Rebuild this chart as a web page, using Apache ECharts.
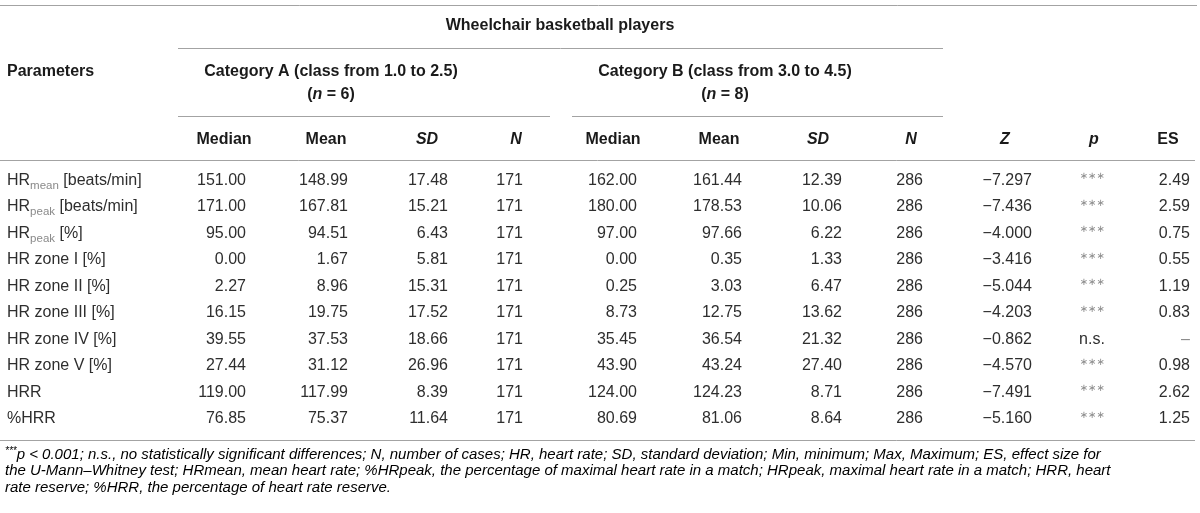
<!DOCTYPE html>
<html>
<head>
<meta charset="utf-8">
<script src="https://cdn.jsdelivr.net/npm/echarts@6/dist/echarts.min.js"></script>
<style>
  html, body { margin: 0; padding: 0; background: #fff; }
  #main { width: 1200px; height: 513px; }
</style>
</head>
<body>
<div id="main"></div>
<script>
// table values
var rowLabels = ['HR_mean [beats/min]', 'HR_peak [beats/min]', 'HR_peak [%]', 'HR zone I [%]', 'HR zone II [%]',
  'HR zone III [%]', 'HR zone IV [%]', 'HR zone V [%]', 'HRR', '%HRR'];
var medianA = [151.00, 171.00, 95.00, 0.00, 2.27, 16.15, 39.55, 27.44, 119.00, 76.85];
var meanA = [148.99, 167.81, 94.51, 1.67, 8.96, 19.75, 37.53, 31.12, 117.99, 75.37];
var sdA = [17.48, 15.21, 6.43, 5.81, 15.31, 17.52, 18.66, 26.96, 8.39, 11.64];
var nA = [171, 171, 171, 171, 171, 171, 171, 171, 171, 171];
var medianB = [162.00, 180.00, 97.00, 0.00, 0.25, 8.73, 35.45, 43.90, 124.00, 80.69];
var meanB = [161.44, 178.53, 97.66, 0.35, 3.03, 12.75, 36.54, 43.24, 124.23, 81.06];
var sdB = [12.39, 10.06, 6.22, 1.33, 6.47, 13.62, 21.32, 27.40, 8.71, 8.64];
var nB = [286, 286, 286, 286, 286, 286, 286, 286, 286, 286];
var zValues = [-7.297, -7.436, -4.000, -3.416, -5.044, -4.203, -0.862, -4.570, -7.491, -5.160];
var pLabels = ['***', '***', '***', '***', '***', '***', 'n.s.', '***', '***', '***'];
var esValues = [2.49, 2.59, 0.75, 0.55, 1.19, 0.83, null, 0.98, 2.62, 1.25];
var columnHeads = ['Median', 'Mean', 'SD', 'N', 'Median', 'Mean', 'SD', 'N', 'Z', 'p', 'ES'];
var italicHeads = [false, false, true, true, false, false, true, true, true, true, false];

var footLines = [
  '***|p < 0.001; n.s., no statistically significant differences; N, number of cases; HR, heart rate; SD, standard deviation; Min, minimum; Max, Maximum; ES, effect size for',
  'the U-Mann\u2013Whitney test; HRmean, mean heart rate; %HRpeak, the percentage of maximal heart rate in a match; HRpeak, maximal heart rate in a match; HRR, heart',
  'rate reserve; %HRR, the percentage of heart rate reserve.'
];

// layout (pixels)
var FONT = '"Liberation Sans", Arial, Helvetica, sans-serif';
var colAnchor = [246, 348, 448, 523, 637, 742, 842, 923, 1032, 1092, 1190];
var headCenter = [224, 326, 427, 516, 613, 719, 818, 911, 1005, 1094, 1168];

var columns = [medianA, meanA, sdA, nA, medianB, meanB, sdB, nB, zValues, pLabels, esValues];

function cellText(c, r) {
  var v = columns[c][r];
  if (c === 3 || c === 7) return String(v);
  if (c === 8) return (v < 0 ? '\u2212' : '') + Math.abs(v).toFixed(3);
  if (c === 9) return v;
  if (v === null) return '\u2013';
  return v.toFixed(2);
}

var cells = [];
for (var c = 0; c < columns.length; c++) {
  for (var r = 0; r < rowLabels.length; r++) {
    cells.push([colAnchor[c], r, c]);
  }
}

var chartDom = document.getElementById('main');
var myChart = echarts.init(chartDom, null, { renderer: 'canvas' });

var option = {
  backgroundColor: '#fff',
  animation: false,
  grid: { left: 0, right: 0, top: 167.25, height: 265, outerBoundsMode: 'none' },
  xAxis: { type: 'value', min: 0, max: 1200, show: false },
  yAxis: {
    type: 'category',
    data: rowLabels,
    inverse: true,
    axisLine: { show: false },
    axisTick: { show: false },
    splitLine: { show: false },
    axisLabel: {
      inside: true,
      margin: 7,
      formatter: function (v) {
        var m = v.match(/^HR_(\w+)(.*)$/);
        if (m) return '{a|HR}{s|' + m[1] + '}{a|' + m[2] + '}';
        return '{a|' + v + '}';
      },
      rich: {
        a: { fontSize: 16, fontFamily: FONT, color: '#2e2e2e', lineHeight: 22 },
        s: { fontSize: 11.5, fontFamily: FONT, color: '#8a8a8a', verticalAlign: 'bottom' }
      }
    }
  },
  series: [{
    type: 'custom',
    coordinateSystem: 'cartesian2d',
    data: cells,
    encode: { x: 0, y: 1 },
    renderItem: function (params, api) {
      var c = api.value(2), r = api.value(1);
      var pt = api.coord([api.value(0), r]);
      var txt = cellText(c, r);
      var stars = txt === '***';
      var dash = txt === '\u2013';
      return {
        type: 'text',
        x: pt[0],
        y: pt[1] + (stars ? -4 : 0),
        style: {
          text: stars ? '\u2217\u2217\u2217' : txt,
          font: stars ? '10px "DejaVu Sans", sans-serif' : '16px ' + FONT,
          fill: (stars || dash) ? '#8a8a8a' : '#2e2e2e',
          align: c === 9 ? 'center' : 'right',
          verticalAlign: 'middle'
        }
      };
    }
  }]
};
myChart.setOption(option);

// header, rules and footnote
var lineColor = '#a3a3a3';
function rule(y, x1, x2) {
  return { type: 'line', silent: true,
    shape: { x1: x1, y1: y + 0.5, x2: x2, y2: y + 0.5 },
    style: { stroke: lineColor, lineWidth: 1 } };
}
function label(txt, x, y, align, rich) {
  return { type: 'text', silent: true, x: x, y: y,
    style: { text: txt, align: align, verticalAlign: 'middle', rich: rich,
      font: 'bold 16px ' + FONT, fill: '#1a1a1a' } };
}
var boldRich = {
  b: { fontSize: 16, fontWeight: 'bold', fontFamily: FONT, color: '#1a1a1a' },
  i: { fontSize: 16, fontWeight: 'bold', fontStyle: 'italic', fontFamily: FONT, color: '#1a1a1a' }
};
function px(x) { return myChart.convertToPixel({ xAxisIndex: 0 }, x); }

var els = [
  rule(5, 0, 1197),
  rule(48, px(178), px(943)),
  rule(116, px(178), px(550)),
  rule(116, px(572), px(943)),
  rule(160, 0, 1195),
  rule(440, 0, 1195),
  label('{b|Wheelchair basketball players}', px(560), 26, 'center', boldRich),
  label('{b|Parameters}', 7, 72, 'left', boldRich),
  label('{b|Category A (class from 1.0 to 2.5)}', px(331), 72, 'center', boldRich),
  label('{b|(}{i|n}{b| = 6)}', px(331), 95, 'center', boldRich),
  label('{b|Category B (class from 3.0 to 4.5)}', px(725), 72, 'center', boldRich),
  label('{b|(}{i|n}{b| = 8)}', px(725), 95, 'center', boldRich)
];
columnHeads.forEach(function (h, i) {
  els.push(label('{' + (italicHeads[i] ? 'i' : 'b') + '|' + h + '}', px(headCenter[i]), 140, 'center', boldRich));
});

var footRich = {
  t: { fontSize: 15, fontStyle: 'italic', fontFamily: FONT, color: '#333', lineHeight: 17 },
  sup: { fontSize: 10, fontStyle: 'italic', fontFamily: FONT, color: '#555', verticalAlign: 'top' }
};
footLines.forEach(function (ln, i) {
  var parts = ln.split('|');
  var txt = parts.length > 1 ? '{sup|' + parts[0] + '}{t|' + parts[1] + '}' : '{t|' + ln + '}';
  els.push({ type: 'text', silent: true, x: 5, y: 455 + i * 16.3,
    style: { text: txt, rich: footRich, align: 'left', verticalAlign: 'middle' } });
});

myChart.setOption({ graphic: { elements: els } });
</script>
</body>
</html>
